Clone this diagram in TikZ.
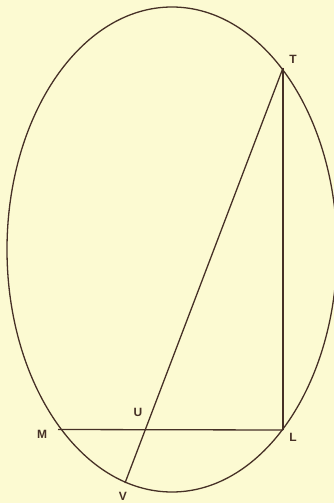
\documentclass[tikz,border=0pt]{standalone}
\usepackage{fontspec}
\setmainfont{Liberation Sans}
\definecolor{bg}{RGB}{252,250,210}
\definecolor{ink}{RGB}{70,48,38}
\begin{document}
\begin{tikzpicture}[x=1pt,y=-1pt,
  geo/.style={draw=ink,line width=1.3pt},
  lbl/.style={text=ink,font=\bfseries\fontsize{12}{12}\selectfont,inner sep=0pt}]
\fill[bg] (0,0) rectangle (334,503);
\useasboundingbox (0,0) rectangle (334,503);
\begin{scope}
\clip (0,0) rectangle (334,503);
\draw[geo] (172,249.5) ellipse [x radius=165, y radius=242.5];
\end{scope}
\coordinate (T) at (283,68);
\coordinate (L) at (283,430);
\coordinate (M) at (58,429.5);
\coordinate (V) at (125,483);
\draw[geo] (T) -- (L);
\draw[geo] (M) -- (L);
\draw[geo] (T) -- (V);
\node[lbl] (tT) at (293,59) {T};
\node[lbl] (tL) at (293,437) {L};
\node[lbl] (tM) at (42,434) {M};
\node[lbl] (tU) at (138,412) {U};
\node[lbl] (tV) at (123,496) {V};
\end{tikzpicture}
\end{document}
